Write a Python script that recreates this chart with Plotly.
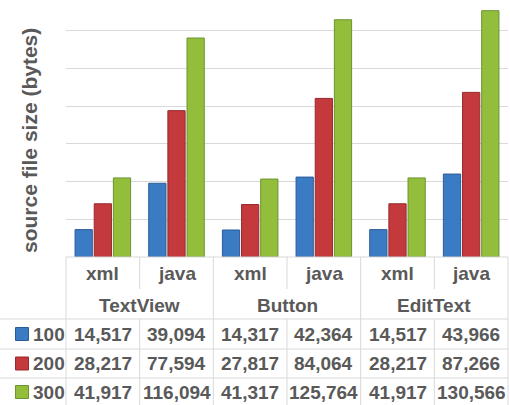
import plotly.graph_objects as go

groups = ["TextView", "Button", "EditText"]
kinds = ["xml", "java"]
series_names = ["100", "200", "300"]
s100 = [14517, 39094, 14317, 42364, 14517, 43966]
s200 = [28217, 77594, 27817, 84064, 28217, 87266]
s300 = [41917, 116094, 41317, 125764, 41917, 130566]
series_values = [s100, s200, s300]
colors = ["#3B7BC4", "#C4393B", "#92BE3C"]
edge_colors = ["#2A5C98", "#962A2C", "#6C9330"]

W, H = 510, 405
L, R, T, B = 66, 2, 0, 148
PW = W - L - R
PH = H - T - B


def X(px):
    return (px - L) / PW


def Y(py):
    return (H - B - py) / PH


xcats = [[g for g in groups for _ in kinds], [k for _ in groups for k in kinds]]
xidx = list(range(len(groups) * len(kinds)))

fig = go.Figure()
for name, vals, c, ec in zip(series_names, series_values, colors, edge_colors):
    fig.add_trace(go.Bar(x=xidx, y=vals, name=name, marker=dict(color=c, line=dict(color=ec, width=1))))

fig.update_layout(
    width=W, height=H,
    margin=dict(l=L, r=R, t=T, b=B),
    paper_bgcolor="white", plot_bgcolor="white",
    barmode="group", bargap=0.22, bargroupgap=0.1,
    showlegend=False,
    xaxis=dict(range=[-0.5, len(xidx) - 0.5], showticklabels=False, showgrid=False, zeroline=False),
    yaxis=dict(range=[0, 136240], dtick=20000, showticklabels=False, gridcolor="#D9D9D9",
               gridwidth=1, zeroline=False, showline=False),
)

grey = "#595959"
font_tbl = dict(family="Liberation Sans Narrow, Arial Narrow, sans-serif", size=19, color=grey, weight="bold")
line_c = "#D9D9D9"
shapes = []


def hline(py, x0, x1):
    shapes.append(dict(type="line", xref="paper", yref="paper", x0=X(x0), x1=X(x1), y0=Y(py), y1=Y(py),
                       line=dict(color=line_c, width=1)))


def vline(px, y0, y1):
    shapes.append(dict(type="line", xref="paper", yref="paper", x0=X(px), x1=X(px), y0=Y(y0), y1=Y(y1),
                       line=dict(color=line_c, width=1)))


colw = PW / len(xidx)
right = L + PW
hline(257, L, right)
for py in [319, 349, 378]:
    hline(py, 0, right)
for gi in range(len(groups) + 1):
    vline(L + gi * 2 * colw, 257, 405)
for gi in range(len(groups)):
    vline(L + (2 * gi + 1) * colw, 257, 289)
    vline(L + (2 * gi + 1) * colw, 319, 405)

ann = []
for i in xidx:
    cx = L + (i + 0.5) * colw
    ann.append(dict(text=xcats[1][i], x=X(cx), y=Y(273)))
for gi, g in enumerate(groups):
    cx = L + (2 * gi + 1) * colw
    ann.append(dict(text=g, x=X(cx), y=Y(305)))
row_y = [334, 363.5, 392]
for ri, (name, vals, c) in enumerate(zip(series_names, series_values, colors)):
    ry = row_y[ri]
    for i, v in enumerate(vals):
        cx = L + (i + 0.5) * colw
        ann.append(dict(text=f"{v:,}", x=X(cx), y=Y(ry)))
    ann.append(dict(text=name, x=X(31), y=Y(ry), xanchor="left"))
    shapes.append(dict(type="rect", xref="paper", yref="paper", x0=X(15.5), x1=X(28.5), y0=Y(ry - 6.5), y1=Y(ry + 6.5),
                       fillcolor=c, line=dict(color=edge_colors[ri], width=1)))

annotations = []
for a in ann:
    d = dict(xref="paper", yref="paper", showarrow=False, yanchor="middle", font=font_tbl)
    d.setdefault("xanchor", "center")
    d.update(a)
    annotations.append(d)

annotations.append(dict(text="source file size (bytes)", xref="paper", yref="paper", x=X(29), y=Y(141),
                        textangle=-90, showarrow=False, xanchor="center", yanchor="middle",
                        font=dict(family="Liberation Sans Narrow, Arial Narrow, sans-serif", size=21, color=grey,
                                  weight="bold")))

fig.update_layout(shapes=shapes, annotations=annotations)
fig.write_html("out.html")
